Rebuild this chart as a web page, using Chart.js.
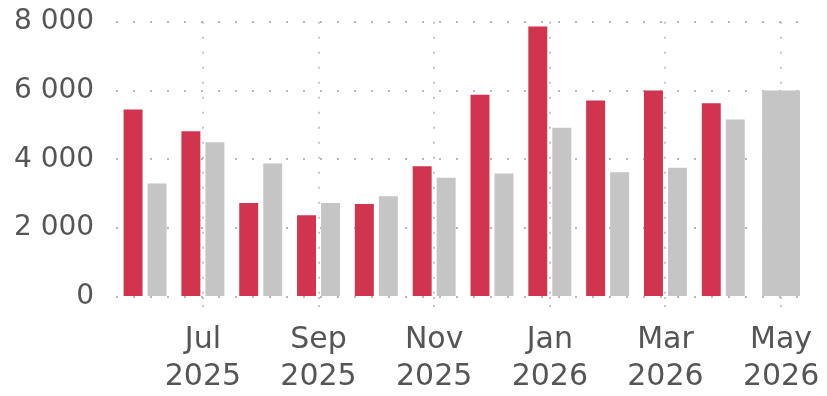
<!DOCTYPE html>
<html lang="en">
<head>
<meta charset="UTF-8">
<title>Monthly bars</title>
<script src="https://cdn.jsdelivr.net/npm/chart.js"></script>
<style>
  html, body { margin: 0; padding: 0; background: #fff; }
  .chart-container { width: 827px; height: 396px; }
</style>
</head>
<body>
<div class="chart-container">
  <canvas id="barChart"></canvas>
</div>
<script>
  // months Jun 2025 .. May 2026
  const months = ['Jun 2025', 'Jul 2025', 'Aug 2025', 'Sep 2025', 'Oct 2025', 'Nov 2025',
                  'Dec 2025', 'Jan 2026', 'Feb 2026', 'Mar 2026', 'Apr 2026', 'May 2026'];
  const redValues  = [5450, 4820, 2730, 2380, 2700, 3800, 5880, 7860, 5710, 6000, 5630, null];
  const grayValues = [3300, 4500, 3880, 2730, 2930, 3470, 3590, 4920, 3630, 3760, 5160, 6000];
  const yTicks = [0, 2000, 4000, 6000, 8000];

  const ctx = document.getElementById('barChart').getContext('2d');
  new Chart(ctx, {
    type: 'bar',
    data: {
      labels: months,
      datasets: [
        { label: 'red', data: redValues, backgroundColor: '#d1344f' },
        { label: 'gray', data: grayValues, backgroundColor: '#c5c5c5' }
      ]
    },
    options: {
      responsive: true,
      maintainAspectRatio: false,
      animation: false,
      skipNull: true,
      categoryPercentage: 0.83,
      barPercentage: 0.79,
      layout: { padding: { top: 0, right: 17, left: 9, bottom: 0 } },
      plugins: {
        legend: { display: false },
        tooltip: { enabled: false }
      },
      scales: {
        x: {
          offset: true,
          border: { display: false, dash: [2, 13] },
          grid: {
            offset: false,
            // vertical lines only at the labelled months
            color: c => (c.index % 2 === 1 ? '#c6c6c6' : 'transparent'),
            lineWidth: 2,
            tickLength: 10,
            tickBorderDash: [2, 6]
          },
          ticks: {
            autoSkip: false,
            maxRotation: 0,
            color: '#555',
            font: { family: 'DejaVu Sans', size: 30, lineHeight: 1.233 },
            padding: 15,
            callback: (v, i) => (i % 2 === 1 ? months[i].split(' ') : '')
          },
          afterFit: axis => {
            axis.height = 99;
            axis.paddingLeft = 0;
            axis.paddingRight = 0;
          }
        },
        y: {
          min: 0,
          max: 8000,
          border: { display: false, dash: [2, 15] },
          afterBuildTicks: axis => { axis.ticks = yTicks.map(v => ({ value: v })); },
          grid: {
            color: '#b8b8b8',
            lineWidth: 2,
            tickLength: 17,
            tickColor: 'transparent'
          },
          ticks: {
            color: '#555',
            padding: 5,
            font: { family: 'DejaVu Sans', size: 28 },
            callback: v => String(v).replace(/\B(?=(\d{3})+(?!\d))/g, ' ')
          }
        }
      }
    }
  });
</script>
</body>
</html>
